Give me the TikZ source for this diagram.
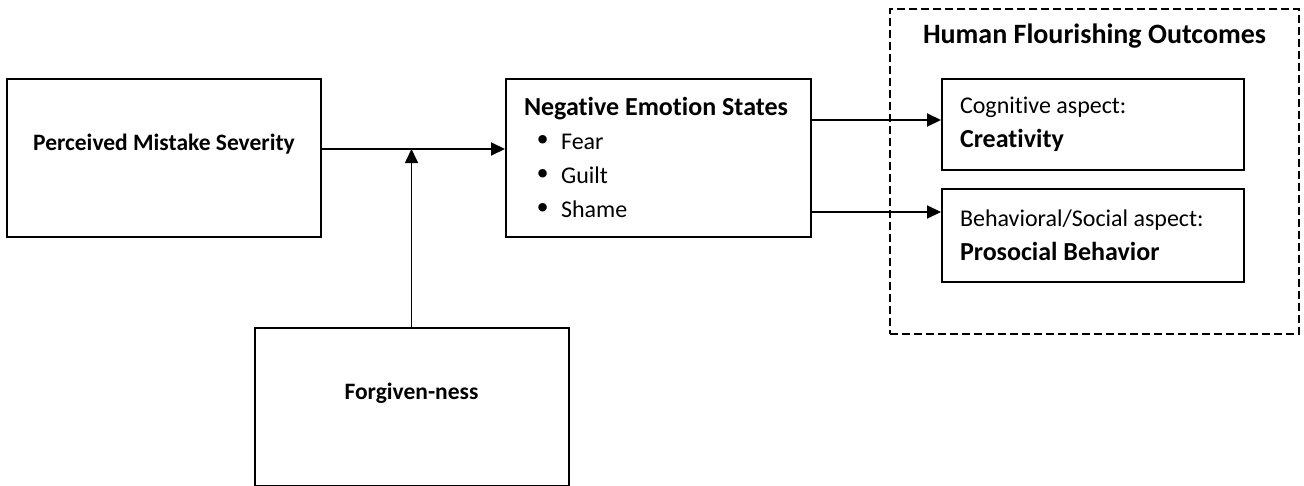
\documentclass[tikz,border=0pt]{standalone}
\usepackage{fontspec}
\setmainfont{Carlito}[Ligatures=NoCommon]
\newfontfamily\dotfont{DejaVu Sans}
\usetikzlibrary{arrows.meta, positioning}
\newcommand{\headtext}[1]{{\fontsize{26}{34}\selectfont\bfseries #1}}
\newcommand{\emoitem}[1]{\hspace*{10pt}{\dotfont\fontsize{29}{34}\selectfont\raisebox{-1pt}{\symbol{"2022}}}\hspace{10pt}#1}

\begin{document}
\begin{tikzpicture}[x=1pt, y=-1pt, ->, >={Triangle[length=14pt, width=13pt]}, line width=2pt]
    \tikzstyle{box}=[draw=black, rectangle, inner sep=0pt, line width=2pt]
    \tikzstyle{main box}=[box, minimum width=314pt, minimum height=158pt, text height=16pt, text depth=32pt, font=\fontsize{23.5}{28}\selectfont\bfseries]
    \tikzstyle{list box}=[box, align=left, inner xsep=18pt, font=\fontsize{24}{34}\selectfont, execute at begin node={\spaceskip=0pt\xspaceskip=0pt}]
    \tikzstyle{outcome box}=[list box, text width=266pt]
    \tikzstyle{group}=[draw=black, line width=1.5pt, dash pattern=on 8pt off 4pt, minimum width=409pt, minimum height=325pt]

    \useasboundingbox (0,0) rectangle (1304,485);

    % Draw the predictor and moderator
    \node[main box] (pms) at (164,158) {Perceived Mistake Severity};
    \node[main box] (forg) at (411.5,407) {Forgiven-ness};

    % Draw the mediator
    \node[list box, text width=269pt, minimum height=158pt] (nes) at (658.5,158)
        {\headtext{Negative Emotion States}\\
         \emoitem{Fear}\\
         \emoitem{Guilt}\\
         \emoitem{Shame}};

    % Draw the outcomes
    \node[group] (hfo) at (1094.5,171.5) {};
    \node[anchor=base, font=\fontsize{28}{32}\selectfont\bfseries] (title) at (1094.5,43) {Human Flourishing Outcomes};
    \node[outcome box, minimum height=91pt] (cre) at (1093,124.5) {Cognitive aspect:\\\headtext{Creativity}};
    \node[outcome box, minimum height=93pt] (pro) at (1093,235.5) {Behavioral/Social aspect:\\\headtext{Prosocial Behavior}};

    \coordinate[yshift=9pt] (pmsOut) at (pms.east);
    \coordinate[yshift=4.5pt] (creIn) at (cre.west);
    \coordinate[yshift=23.5pt] (proIn) at (pro.west);

    \draw (pmsOut) -- (nes.west |- pmsOut);
    \draw[line width=1.5pt] (forg.north) -- (forg.north |- pmsOut);
    \draw (nes.east |- creIn) -- (creIn);
    \draw (nes.east |- proIn) -- (proIn);
\end{tikzpicture}
\end{document}
